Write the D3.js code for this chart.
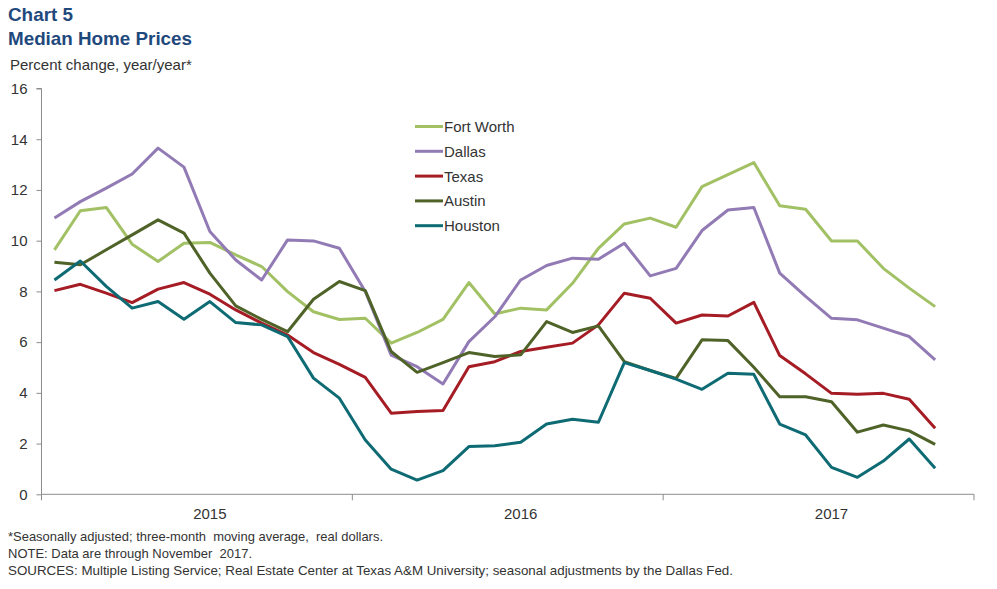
<!DOCTYPE html>
<html>
<head>
<meta charset="utf-8">
<script src="https://cdn.jsdelivr.net/npm/d3@7"></script>
<style>
  html, body { margin: 0; padding: 0; background: #fff; }
  svg { display: block; font-family: "Liberation Sans", Arial, sans-serif; }
</style>
</head>
<body>
<svg id="chart" width="997" height="589"></svg>
<script>
// ---- Data (Jan 2015 – Nov 2017, monthly) ----
const seriesNames = ["Fort Worth", "Dallas", "Texas", "Austin", "Houston"];
const seriesColors = ["#a2c165", "#927bb5", "#a51c25", "#4f6228", "#0e6b74"];
const fortWorth = [9.64, 11.18, 11.31, 9.86, 9.18, 9.9, 9.93, 9.44, 8.98, 7.99, 7.2, 6.89, 6.94, 5.96, 6.38, 6.9, 8.35, 7.11, 7.34, 7.27, 8.32, 9.7, 10.66, 10.89, 10.53, 12.13, 12.6, 13.08, 11.38, 11.24, 9.99, 9.99, 8.91, 8.13, 7.4];
const dallas = [10.89, 11.54, 12.07, 12.63, 13.65, 12.9, 10.36, 9.24, 8.45, 10.03, 9.99, 9.7, 8.0, 5.49, 5.03, 4.35, 6.02, 7.0, 8.45, 9.02, 9.31, 9.27, 9.9, 8.61, 8.91, 10.4, 11.21, 11.31, 8.72, 7.8, 6.94, 6.88, 6.55, 6.22, 5.3];
const texas = [8.03, 8.28, 7.93, 7.56, 8.09, 8.35, 7.89, 7.27, 6.75, 6.28, 5.59, 5.12, 4.61, 3.2, 3.26, 3.3, 5.03, 5.23, 5.63, 5.8, 5.96, 6.68, 7.93, 7.73, 6.75, 7.07, 7.03, 7.57, 5.47, 4.75, 3.98, 3.94, 3.98, 3.75, 2.6];
const austin = [9.15, 9.05, 9.64, 10.23, 10.82, 10.3, 8.72, 7.43, 6.9, 6.41, 7.69, 8.39, 8.03, 5.63, 4.81, 5.19, 5.59, 5.43, 5.5, 6.81, 6.38, 6.64, 5.23, 4.88, 4.57, 6.09, 6.06, 5.01, 3.85, 3.85, 3.65, 2.45, 2.73, 2.5, 1.97];
const houston = [8.45, 9.2, 8.2, 7.34, 7.6, 6.9, 7.6, 6.77, 6.68, 6.22, 4.58, 3.79, 2.14, 0.99, 0.56, 0.93, 1.88, 1.91, 2.05, 2.77, 2.96, 2.84, 5.19, 4.88, 4.54, 4.14, 4.77, 4.73, 2.77, 2.34, 1.06, 0.67, 1.31, 2.18, 1.03];
const yearLabels = ["2015", "2016", "2017"];
const yTicks = [0, 2, 4, 6, 8, 10, 12, 14, 16];

const seriesValues = [fortWorth, dallas, texas, austin, houston];

// ---- Layout ----
const svg = d3.select("#chart");
const plotLeft = 41.5, plotRight = 974, plotTop = 88.5, plotBottom = 494.3;

// 36 monthly slots: Jan 2015 .. Dec 2017
const months = d3.timeMonth.range(new Date(2015, 0, 1), new Date(2018, 0, 1));
const x = d3.scaleBand().domain(months.map(d => +d)).range([plotLeft, plotRight]).padding(0);
const bw = x.bandwidth();
const xc = i => x(+months[i]) + bw / 2;
const y = d3.scaleLinear().domain([0, 16]).range([plotBottom, plotTop]);

const axisColor = "#8c8c8c";
const textColor = "#333333";

// Titles
svg.append("text").attr("x", 8).attr("y", 20.5)
  .attr("font-size", 19).attr("font-weight", "bold").attr("fill", "#1f497d")
  .attr("textLength", 65).attr("lengthAdjust", "spacingAndGlyphs")
  .text("Chart 5");
svg.append("text").attr("x", 8).attr("y", 45)
  .attr("font-size", 19).attr("font-weight", "bold").attr("fill", "#1f497d")
  .attr("textLength", 184).attr("lengthAdjust", "spacingAndGlyphs")
  .text("Median Home Prices");
svg.append("text").attr("x", 10).attr("y", 69.5)
  .attr("font-size", 15).attr("fill", textColor)
  .text("Percent change, year/year*");

// Y axis
const yAxis = d3.axisLeft(y).tickValues(yTicks).tickSize(5).tickPadding(9).tickFormat(d3.format("d"));
const gy = svg.append("g").attr("transform", `translate(${plotLeft},0)`).call(yAxis);
gy.select(".domain").attr("stroke", axisColor).attr("d", `M-5,${plotTop}H0V${plotBottom}`);
gy.selectAll(".tick line").attr("stroke", axisColor);
gy.selectAll(".tick text").attr("font-size", 15).attr("fill", textColor)
  .attr("font-family", "Liberation Sans, Arial, sans-serif");

// X axis: year boundaries
const yearStarts = [0, 12, 24].map(i => x(+months[i]));
yearStarts.push(plotRight);
svg.append("line").attr("x1", plotLeft).attr("x2", plotRight).attr("y1", plotBottom).attr("y2", plotBottom)
  .attr("stroke", axisColor).attr("stroke-width", 1);
svg.selectAll(".xtick").data(yearStarts).enter().append("line")
  .attr("x1", d => d).attr("x2", d => d).attr("y1", plotBottom).attr("y2", plotBottom + 6)
  .attr("stroke", axisColor);
svg.selectAll(".xlabel").data(yearLabels).enter().append("text")
  .attr("x", (d, i) => xc(i * 12 + 6))
  .attr("y", 518.5).attr("text-anchor", "middle")
  .attr("font-size", 15).attr("fill", textColor)
  .text(d => d);

// Lines
const line = d3.line().x((d, i) => xc(i)).y(d => y(d));
seriesValues.forEach((vals, k) => {
  svg.append("path").datum(vals)
    .attr("d", line).attr("fill", "none")
    .attr("stroke", seriesColors[k]).attr("stroke-width", 3)
    .attr("stroke-linejoin", "round").attr("stroke-linecap", "butt");
});

// Legend
const lg = svg.append("g");
seriesNames.forEach((name, k) => {
  const ly = 126.5 + k * 24.8;
  lg.append("line").attr("x1", 415).attr("x2", 443).attr("y1", ly).attr("y2", ly)
    .attr("stroke", seriesColors[k]).attr("stroke-width", 3);
  lg.append("text").attr("x", 444).attr("y", ly + 5.5)
    .attr("font-size", 15).attr("fill", textColor).text(name);
});

// Footnotes
const notes = [
  ["*Seasonally adjusted; three-month  moving average,  real dollars.", 540.5, 375],
  ["NOTE: Data are through November  2017.", 557.5, 244],
  ["SOURCES: Multiple Listing Service; Real Estate Center at Texas A&M University; seasonal adjustments by the Dallas Fed.", 575, 725]
];
notes.forEach(([t, yy, w]) => {
  svg.append("text").attr("x", 8).attr("y", yy)
    .attr("font-size", 13).attr("fill", textColor)
    .attr("textLength", w).attr("lengthAdjust", "spacingAndGlyphs")
    .style("white-space", "pre")
    .text(t);
});
</script>
</body>
</html>
